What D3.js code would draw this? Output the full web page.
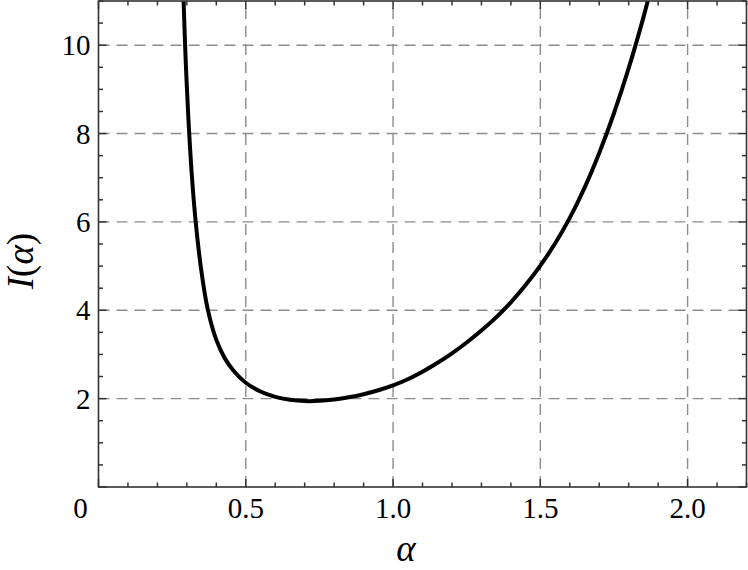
<!DOCTYPE html>
<html><head><meta charset="utf-8">
<script src="https://cdn.jsdelivr.net/npm/d3@7"></script>
<style>
html,body{margin:0;padding:0;background:#fff;}
svg{display:block;}
text{font-family:"Liberation Serif","DejaVu Serif",serif;fill:#000;}
</style></head>
<body>
<svg id="c" width="748" height="570"></svg>
<script>
// data
const alphaVals = [0.283, 0.288, 0.294, 0.300, 0.308, 0.318, 0.330, 0.348, 0.370, 0.400, 0.430, 0.460, 0.500, 0.550, 0.600, 0.650, 0.700, 0.750, 0.800, 0.850, 0.900, 0.950, 1.000, 1.050, 1.100, 1.150, 1.200, 1.250, 1.300, 1.350, 1.400, 1.450, 1.500, 1.550, 1.600, 1.650, 1.700, 1.750, 1.800, 1.850, 1.900];
const iVals     = [12.4, 11.2, 10.0, 9.05, 8.0, 6.95, 6.0, 4.95, 4.05, 3.33, 2.90, 2.62, 2.36, 2.16, 2.04, 1.975, 1.945, 1.95, 1.98, 2.03, 2.10, 2.19, 2.30, 2.44, 2.61, 2.805, 3.025, 3.27, 3.54, 3.84, 4.18, 4.57, 5.01, 5.51, 6.09, 6.77, 7.56, 8.46, 9.48, 10.63, 11.92];
const xMajorTicks = [0.5, 1.0, 1.5, 2.0];
const xTickLabels = ["0.5", "1.0", "1.5", "2.0"];
const yMajorTicks = [2, 4, 6, 8, 10];
const yTickLabels = ["2", "4", "6", "8", "10"];
const xDomain = [0, 2.2];
const yDomain = [0, 11];

const svg = d3.select("#c");
const L = 98.5, R = 746.5, T = 1, B = 487;
const x = d3.scaleLinear().domain(xDomain).range([L, R]);
const y = d3.scaleLinear().domain(yDomain).range([B, T]);

svg.append("defs").append("clipPath").attr("id","clip")
  .append("rect").attr("x",L).attr("y",T).attr("width",R-L).attr("height",B-T);

// grid
const grid = svg.append("g").attr("stroke","#8c8c8c").attr("stroke-width",1.4).attr("stroke-dasharray","11,7");
grid.selectAll("line.gx").data(xMajorTicks).join("line")
  .attr("x1",d=>x(d)).attr("x2",d=>x(d)).attr("y1",B).attr("y2",T);
grid.selectAll("line.gy").data(yMajorTicks).join("line")
  .attr("y1",d=>y(d)).attr("y2",d=>y(d)).attr("x1",L).attr("x2",R);

// curve
const data = alphaVals.map((a,i)=>[a,iVals[i]]);
svg.append("path").datum(data)
  .attr("clip-path","url(#clip)")
  .attr("fill","none").attr("stroke","#000").attr("stroke-width",4)
  .attr("stroke-linejoin","round")
  .attr("d", d3.line().x(d=>x(d[0])).y(d=>y(d[1])).curve(d3.curveCatmullRom.alpha(0.5)));

// axes with inward ticks
const xMinor = d3.range(0, 2.2001, 0.1).map(v=>+v.toFixed(2));
const yMinor = d3.range(0, 11.001, 0.5).map(v=>+v.toFixed(2));
const isMajX = v => Math.abs(v*2 - Math.round(v*2)) < 1e-6;
const isMajY = v => Math.abs(v/2 - Math.round(v/2)) < 1e-6;

const ax = svg.append("g").attr("stroke","#333").attr("stroke-width",1.5);
xMinor.forEach(v=>{
  const len = isMajX(v) ? 8 : 4.5;
  ax.append("line").attr("x1",x(v)).attr("x2",x(v)).attr("y1",B).attr("y2",B-len);
  ax.append("line").attr("x1",x(v)).attr("x2",x(v)).attr("y1",T).attr("y2",T+len);
});
yMinor.forEach(v=>{
  const len = isMajY(v) ? 8 : 4.5;
  ax.append("line").attr("y1",y(v)).attr("y2",y(v)).attr("x1",L).attr("x2",L+len);
  ax.append("line").attr("y1",y(v)).attr("y2",y(v)).attr("x1",R).attr("x2",R-len);
});
svg.append("rect").attr("x",L).attr("y",T).attr("width",R-L).attr("height",B-T)
  .attr("fill","none").attr("stroke","#333").attr("stroke-width",1.6);

// tick labels
svg.append("g").selectAll("text").data(xMajorTicks).join("text")
  .attr("x",d=>x(d)).attr("y",B+31).attr("text-anchor","middle")
  .attr("font-size",29).text((d,i)=>xTickLabels[i]);
svg.append("text").attr("x",x(0)-18).attr("y",B+31).attr("text-anchor","middle")
  .attr("font-size",29).text("0");
svg.append("g").selectAll("text").data(yMajorTicks).join("text")
  .attr("x",L-8).attr("y",d=>y(d)+10).attr("text-anchor","end")
  .attr("font-size",29).text((d,i)=>yTickLabels[i]);

// axis labels
svg.append("text").attr("x",406).attr("y",561).attr("text-anchor","middle")
  .attr("font-size",37).attr("font-style","italic").text("α");
svg.append("text").attr("transform","translate(33,261) rotate(-90)").attr("text-anchor","middle")
  .attr("font-size",37)
  .html('<tspan font-style="italic">I</tspan>(<tspan font-style="italic">α</tspan>)');
</script>
</body></html>
